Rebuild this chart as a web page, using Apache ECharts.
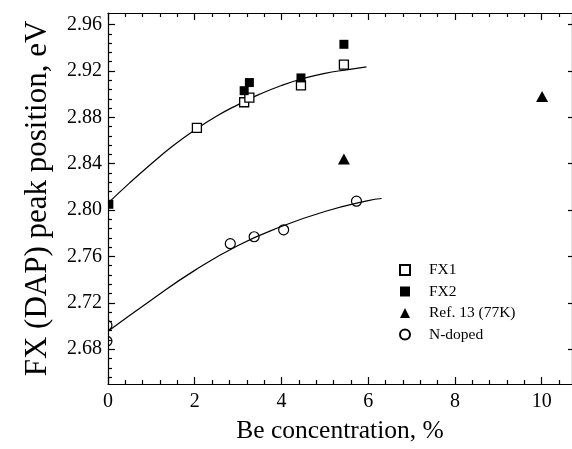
<!DOCTYPE html>
<html>
<head>
<meta charset="utf-8">
<script src="https://cdn.jsdelivr.net/npm/echarts@6/dist/echarts.min.js"></script>
<style>
html,body{margin:0;padding:0;background:#fff;}
#chart{width:572px;height:449px;}
</style>
</head>
<body>
<div id="chart"></div>
<script>
// ---- data ----
const fx1X = [2.05, 3.14, 3.26, 4.45, 5.44];
const fx1Y = [2.871, 2.893, 2.897, 2.9075, 2.9255];
const fx2X = [0.02, 3.14, 3.26, 4.45, 5.44];
const fx2Y = [2.805, 2.903, 2.910, 2.914, 2.943];
const refX = [5.44, 10.01];
const refY = [2.844, 2.898];
const nX = [-0.02, -0.02, 2.82, 3.37, 4.05, 5.73];
const nY = [2.7006, 2.687, 2.771, 2.777, 2.783, 2.8077];
// fitted curves
const fxFitX = [0, 0.5, 1, 1.5, 2, 2.5, 3, 3.5, 4, 4.5, 5, 5.5, 5.96];
const fxFitY = [2.806, 2.8235, 2.840, 2.8555, 2.869, 2.881, 2.891, 2.900, 2.9075, 2.9135, 2.918, 2.921, 2.9235];
const nFitX = [0, 1, 2, 3, 4, 5, 6, 6.31];
const nFitY = [2.6955, 2.7225, 2.748, 2.7695, 2.7858, 2.7988, 2.8082, 2.810];
// axes
const xMajor = [0, 2, 4, 6, 8, 10];
const yMajor = [2.68, 2.72, 2.76, 2.80, 2.84, 2.88, 2.92, 2.96];
const xMin = 0, xMax = 10.7, yMin = 2.65, yMax = 2.97;
const legendNames = ['FX1', 'FX2', 'Ref. 13 (77K)', 'N-doped'];

const xMinor = [];
for (let i = 1; i <= 26; i++) { if (i % 5 !== 0) xMinor.push(+(i * 0.4).toFixed(2)); }
const yMinor = [];
for (let i = 1; i <= 38; i++) { const v = +(2.648 + i * 0.008).toFixed(3); if (i % 5 !== 4) yMinor.push(v); }

const zip = (a, b) => a.map((v, i) => [v, b[i]]);
const FONT = '"Liberation Serif", "Times New Roman", serif';
const edge = 0.05;

const lineStyle = { color: '#000', width: 1.2 };

function xAx(pos, ticks, len, opts) {
  return Object.assign({
    type: 'value', position: pos, min: xMin, max: xMax, gridIndex: 0,
    axisLine: { show: true, onZero: false, lineStyle },
    axisTick: { show: true, inside: true, length: len, customValues: ticks, lineStyle },
    axisLabel: { show: false },
    splitLine: { show: false }
  }, opts || {});
}
function yAx(pos, ticks, len, opts) {
  return Object.assign({
    type: 'value', position: pos, min: yMin, max: yMax, gridIndex: 0,
    axisLine: { show: true, onZero: false, lineStyle },
    axisTick: { show: true, inside: true, length: len, customValues: ticks, lineStyle },
    axisLabel: { show: false },
    splitLine: { show: false }
  }, opts || {});
}

const edgeData = [];
fx2X.forEach((x, i) => { if (x <= edge) edgeData.push([x, fx2Y[i], 0]); });
nX.forEach((x, i) => { if (x <= edge) edgeData.push([x, nY[i], 1]); });

const chart = echarts.init(document.getElementById('chart'), null, { renderer: 'canvas' });
chart.setOption({
  animation: false,
  backgroundColor: '#fff',
  grid: { left: 108, top: 13, right: 0, bottom: 64, containLabel: false },
  xAxis: [
    xAx('bottom', xMajor, 7, {
      axisLabel: { show: true, customValues: xMajor, margin: 8, color: '#000', fontSize: 20, fontFamily: FONT },
      name: 'Be concentration, %', nameLocation: 'middle', nameGap: 34,
      nameTextStyle: { color: '#000', fontSize: 25.5, fontFamily: FONT }
    }),
    xAx('bottom', xMinor, 4, { axisLine: { show: false } }),
    xAx('top', xMajor, 7),
    xAx('top', xMinor, 4, { axisLine: { show: false } })
  ],
  yAxis: [
    yAx('left', yMajor, 7, {
      axisLabel: { show: true, customValues: yMajor, margin: 6, color: '#000', fontSize: 20, fontFamily: FONT,
        formatter: v => v.toFixed(2) },
      name: 'FX (DAP) peak position, eV', nameLocation: 'middle', nameGap: 55,
      nameTextStyle: { color: '#000', fontSize: 31, fontFamily: FONT }
    }),
    yAx('left', yMinor, 4, { axisLine: { show: false } }),
    yAx('right', yMajor, 4)
  ],
  legend: {
    orient: 'vertical', left: 394, top: 257,
    itemWidth: 10, itemHeight: 10, itemGap: 5.5,
    textStyle: { color: '#000', fontSize: 15.5, fontFamily: FONT, lineHeight: 16, padding: [0, 0, 0, 14] },
    data: legendNames
  },
  series: [
    { type: 'line', data: zip(fxFitX, fxFitY), smooth: true, showSymbol: false, symbol: 'none',
      lineStyle: { color: '#000', width: 1.2 }, silent: true, z: 2 },
    { type: 'line', data: zip(nFitX, nFitY), smooth: true, showSymbol: false, symbol: 'none',
      lineStyle: { color: '#000', width: 1.2 }, silent: true, z: 2 },
    { name: legendNames[0], type: 'scatter', data: zip(fx1X, fx1Y), symbol: 'rect', symbolSize: 9,
      itemStyle: { color: '#fff', borderColor: '#000', borderWidth: 1.3, opacity: 1 }, z: 3 },
    { name: legendNames[1], type: 'scatter', data: zip(fx2X, fx2Y).filter(p => p[0] > edge), symbol: 'rect', symbolSize: 9,
      itemStyle: { color: '#000', borderColor: '#000', borderWidth: 0, opacity: 1 }, z: 4 },
    { name: legendNames[2], type: 'scatter', data: zip(refX, refY), symbol: 'triangle', symbolSize: [12, 11],
      itemStyle: { color: '#000', opacity: 1 }, z: 3 },
    { name: legendNames[3], type: 'scatter', data: zip(nX, nY).filter(p => p[0] > edge), symbol: 'circle', symbolSize: 10,
      itemStyle: { color: 'rgba(255,255,255,0)', borderColor: '#000', borderWidth: 1.2, opacity: 1 }, z: 3 },
    { type: 'custom', data: edgeData, clip: true, silent: true, z: 4,
      renderItem: function (params, api) {
        const p = api.coord([api.value(0), api.value(1)]);
        if (api.value(2) === 0) {
          return { type: 'rect', shape: { x: p[0] - 4.5, y: p[1] - 4.5, width: 9, height: 9 }, style: { fill: '#000' } };
        }
        return { type: 'circle', shape: { cx: p[0], cy: p[1], r: 4.8 }, style: { fill: 'none', stroke: '#000', lineWidth: 1.2 } };
      }
    }
  ]
});
</script>
</body>
</html>
